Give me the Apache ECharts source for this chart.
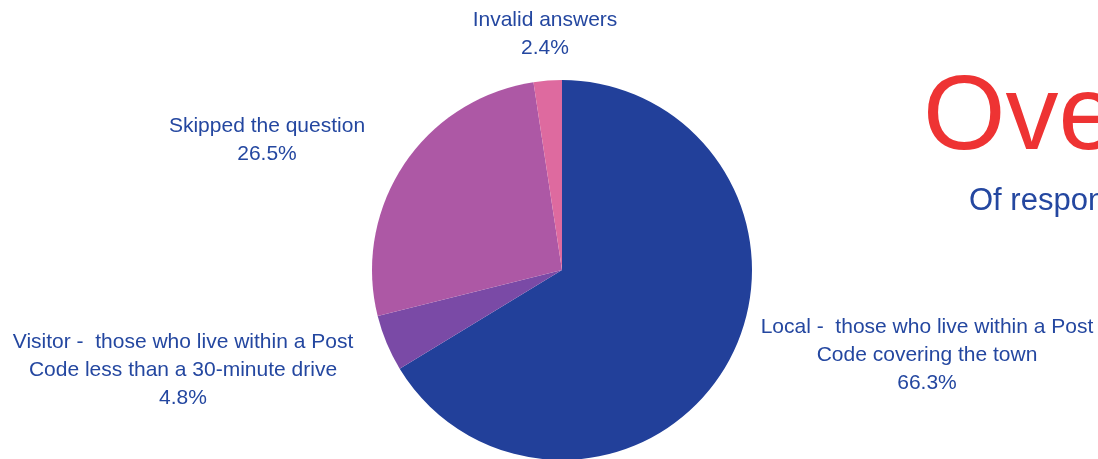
<!DOCTYPE html>
<html><head><meta charset="utf-8">
<script src="https://cdn.jsdelivr.net/npm/echarts@6/dist/echarts.min.js"></script>
<style>html,body{margin:0;padding:0;background:#fff;}#c{width:1098px;height:459px;}</style>
</head><body><div id="c"></div>
<script>
const categories = [
  "Local -  those who live within a Post\nCode covering the town",
  "Visitor -  those who live within a Post\nCode less than a 30-minute drive",
  "Skipped the question",
  "Invalid answers"
];
const values = [66.3, 4.8, 26.5, 2.4];
const colors = ["#22409A", "#7A4AA6", "#AD58A5", "#DE6A9F"];
const titleText = "Overview";
const subtitleText = "Of respondents";

const labelPos = [[927, 355], [183, 370], [267, 140], [545, 34]];

const chart = echarts.init(document.getElementById('c'), null, {renderer: 'canvas'});
chart.setOption({
  animation: false,
  title: [
    {text: titleText, left: 918, top: 62, textStyle: {fontFamily: 'Liberation Sans', fontSize: 106, fontWeight: 'normal', color: '#EE3333'}},
    {text: subtitleText, left: 964, top: 181, textStyle: {fontFamily: 'Liberation Sans', fontSize: 31, fontWeight: 'normal', color: '#2447A0'}}
  ],
  series: [{
    type: 'pie',
    center: [562, 270],
    radius: [0, 190],
    startAngle: 90,
    clockwise: true,
    avoidLabelOverlap: false,
    data: categories.map((c, i) => ({name: c, value: values[i], itemStyle: {color: colors[i]}})),
    label: {
      show: true,
      position: 'outside',
      formatter: p => p.name + '\n' + p.value.toFixed(1) + '%',
      fontFamily: 'Liberation Sans',
      fontSize: 21,
      lineHeight: 28,
      color: '#2447A0',
      align: 'center',
      overflow: 'none',
      width: 420
    },
    labelLine: {show: false},
    labelLayout: params => ({
      x: labelPos[params.dataIndex][0],
      y: labelPos[params.dataIndex][1],
      align: 'center',
      verticalAlign: 'middle'
    }),
    emphasis: {disabled: true}
  }]
});
</script></body></html>
